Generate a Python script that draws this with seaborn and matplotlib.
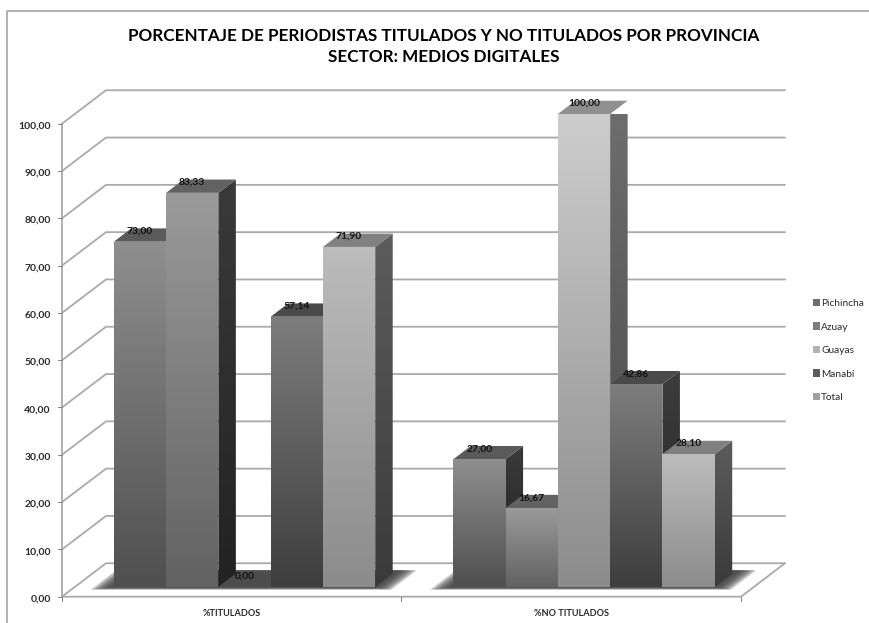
import numpy as np
import pandas as pd
import seaborn as sns
import matplotlib.pyplot as plt
from matplotlib.patches import Polygon, Rectangle
from matplotlib.transforms import ScaledTranslation

# valeurs
categorias = ["%TITULADOS", "%NO TITULADOS"]
provincias = ["Pichincha", "Azuay", "Guayas", "Manabí", "Total"]
pichincha = [73.00, 27.00]
azuay = [83.33, 16.67]
guayas = [0.00, 100.00]
manabi = [57.14, 42.86]
total = [71.90, 28.10]
y_ticks = [0, 10, 20, 30, 40, 50, 60, 70, 80, 90, 100]

# couleurs : legende, face haut/bas, dessus, cote haut/bas
leyenda = ["#6e6e6e", "#7c7c7c", "#b4b4b4", "#5c5c5c", "#a0a0a0"]
cara = [("#8e8e8e", "#4f4f4f"), ("#9a9a9a", "#626262"), ("#cdcdcd", "#8c8c8c"),
        ("#7c7c7c", "#3e3e3e"), ("#bcbcbc", "#8c8c8c")]
tapa = ["#5a5a5a", "#626262", "#909090", "#4a4a4a", "#808080"]
lado = [("#3a3a3a", "#222222"), ("#3a3a3a", "#222222"), ("#6e6e6e", "#484848"),
        ("#3c3c3c", "#262626"), ("#5c5c5c", "#3a3a3a")]

df = pd.DataFrame({"Pichincha": pichincha, "Azuay": azuay, "Guayas": guayas,
                   "Manabí": manabi, "Total": total}, index=categorias)
largo = df.reset_index(names="cat").melt(id_vars="cat", var_name="prov", value_name="pct")

sns.set_theme(style="white")
plt.rcParams["font.family"] = ["Lato", "DejaVu Sans"]

W, H = 870, 623
fig = plt.figure(figsize=(W / 100, H / 100), dpi=100, facecolor="white")
# le plan des axes = la face avant des barres
ax = fig.add_axes([74.75 / W, 1 - 587 / H, 679 / W, 473 / H])

sns.barplot(data=largo, x="cat", y="pct", hue="prov", hue_order=provincias,
            palette=leyenda, saturation=1, width=0.77, gap=0, dodge=True,
            order=categorias, ax=ax, legend=False)
ax.set_xlim(-0.5, 1.5)
ax.set_ylim(0, 100)
ax.patch.set_alpha(0)
ax.set_xlabel("")
ax.set_ylabel("")
sns.despine(ax=ax, left=True, bottom=True)

PX_X = 2 / 679
PX_Y = 100 / 473


def dep(x, y, d):
    # decalage oblique, d en pixels de profondeur
    return (x + d * PX_X, y + d * 0.76 * PX_Y)


def gris(poly, arriba, abajo, z):
    pts = np.array(poly)
    patch = Polygon(pts, closed=True, fc="none", ec="none", zorder=z, clip_on=False)
    ax.add_patch(patch)
    grad = np.linspace(0, 1, 64)[:, None, None]
    c0 = np.array(plt.matplotlib.colors.to_rgb(arriba))
    c1 = np.array(plt.matplotlib.colors.to_rgb(abajo))
    img = c0 * (1 - grad) + c1 * grad
    im = ax.imshow(img, extent=(pts[:, 0].min(), pts[:, 0].max(), pts[:, 1].min(), pts[:, 1].max()),
                   aspect="auto", zorder=z, clip_on=True, origin="upper")
    im.set_clip_path(patch)


F, B = -12.75, 31.25
GRID = "#aaaaaa"

# mur arriere + lignes de grille
for t in y_ticks:
    ax.plot(*zip(dep(-0.5, t, F), dep(-0.5, t, B), dep(1.5, t, B)), color=GRID, lw=1.3,
            clip_on=False, zorder=1, solid_joinstyle="miter")
# sol
ax.plot(*zip(dep(-0.5, 0, F), dep(1.5, 0, F), dep(1.5, 0, B)), color=GRID, lw=1.3,
        clip_on=False, zorder=1)
# axe vertical et petites marques
ax.plot(*zip(dep(-0.5, 0, F), dep(-0.5, 100, F)), color=GRID, lw=1.3, clip_on=False, zorder=1)
for t in y_ticks:
    ax.plot(*zip(dep(-0.5, t, F), dep(-0.5 - 4 * PX_X, t, F)), color="#888888", lw=0.8, clip_on=False, zorder=1)
for xt in [-0.5, 0.5, 1.5]:
    ax.plot(*zip(dep(xt, 0, F), dep(xt, -4 * PX_Y, F)), color="#888888", lw=0.8, clip_on=False, zorder=1)

barras = sorted([(b.get_x(), b, i) for i, c in enumerate(ax.containers) for b in c],
                key=lambda r: r[0])

# ombre au sol, floue
grupos = [barras[:5], barras[5:]]
for grupo in grupos:
    x0 = grupo[0][0]
    x1 = grupo[-1][0] + grupo[-1][1].get_width()
    for k in range(9):
        m = (9 - k) * 2.2 * PX_X
        fr = -0.4 * (9 - k)
        sombra = [dep(x0 - m, 0, fr), dep(x1 + m, 0, fr), dep(x1 + m, 0, 22), dep(x0 - m, 0, 22)]
        ax.add_patch(Polygon(sombra, closed=True, fc="#404040", ec="none", alpha=0.24,
                             zorder=2, clip_on=False))

z = 3
for x, b, i in barras:
    w, h = b.get_width(), b.get_height()
    b.set_visible(False)
    # cote, dessus, face : de gauche a droite
    if h > 0:
        gris([(x + w, h), dep(x + w, h, 17.5), dep(x + w, 0, 17.5), (x + w, 0)], lado[i][0], lado[i][1], z)
        gris([(x, h), (x + w, h), (x + w, 0), (x, 0)], cara[i][0], cara[i][1], z + 0.2)
    color_tapa = tapa[i] if h > 0 else "#4c4c4c"
    ax.add_patch(Polygon([(x, h), (x + w, h), dep(x + w, h, 17.5), dep(x, h, 17.5)], closed=True,
                         fc=color_tapa, ec="none", zorder=z + 0.1, clip_on=False))
    z += 1

for x, b, i in barras:
    h = b.get_height()
    ax.text(x + b.get_width() / 2, h + 10.5 * PX_Y, f"{h:.2f}".replace(".", ","),
            ha="center", va="center", fontsize=7.4, fontweight="bold", color="#111111", zorder=50)

# graduations : decalees vers la face avant du sol
ax.set_yticks(y_ticks, [f"{t:.2f}".replace(".", ",") for t in y_ticks])
ax.set_xticks([0, 1], categorias)
ax.tick_params(axis="both", length=0)
for lbl in ax.get_yticklabels():
    lbl.set_transform(lbl.get_transform() + ScaledTranslation(-0.19, -0.11, fig.dpi_scale_trans))
    lbl.set_fontsize(7.5)
    lbl.set_fontweight("bold")
    lbl.set_color("#2a2a2a")
for lbl in ax.get_xticklabels():
    lbl.set_transform(lbl.get_transform() + ScaledTranslation(-0.1275, -0.17, fig.dpi_scale_trans))
    lbl.set_fontsize(6.6)
    lbl.set_fontweight("bold")
    lbl.set_color("#2a2a2a")

# legende
manijas = [Rectangle((0, 0), 1, 1, fc=c, ec="none") for c in leyenda]
fig.legend(manijas, provincias, loc="upper left", bbox_to_anchor=(813 / W, 1 - 299 / H),
           frameon=False, fontsize=7.3, handlelength=0.7, handleheight=0.7,
           handletextpad=0.1, labelspacing=1.42, borderpad=0, borderaxespad=0,
           labelcolor="#2a2a2a")

fig.text(443.5 / W, 1 - 36 / H, "PORCENTAJE DE PERIODISTAS TITULADOS Y NO TITULADOS POR PROVINCIA",
         ha="center", va="center", fontsize=12.3, fontweight="bold", color="#000000")
fig.text(443.5 / W, 1 - 57 / H, "SECTOR: MEDIOS DIGITALES",
         ha="center", va="center", fontsize=12.3, fontweight="bold", color="#000000")

# cadre du graphique
fig.add_artist(plt.Line2D([7 / W, 7 / W, 1], [0, 1 - 11 / H, 1 - 11 / H], color="#b0b0b0", lw=1.4))

fig.savefig("out.png", dpi=100)
